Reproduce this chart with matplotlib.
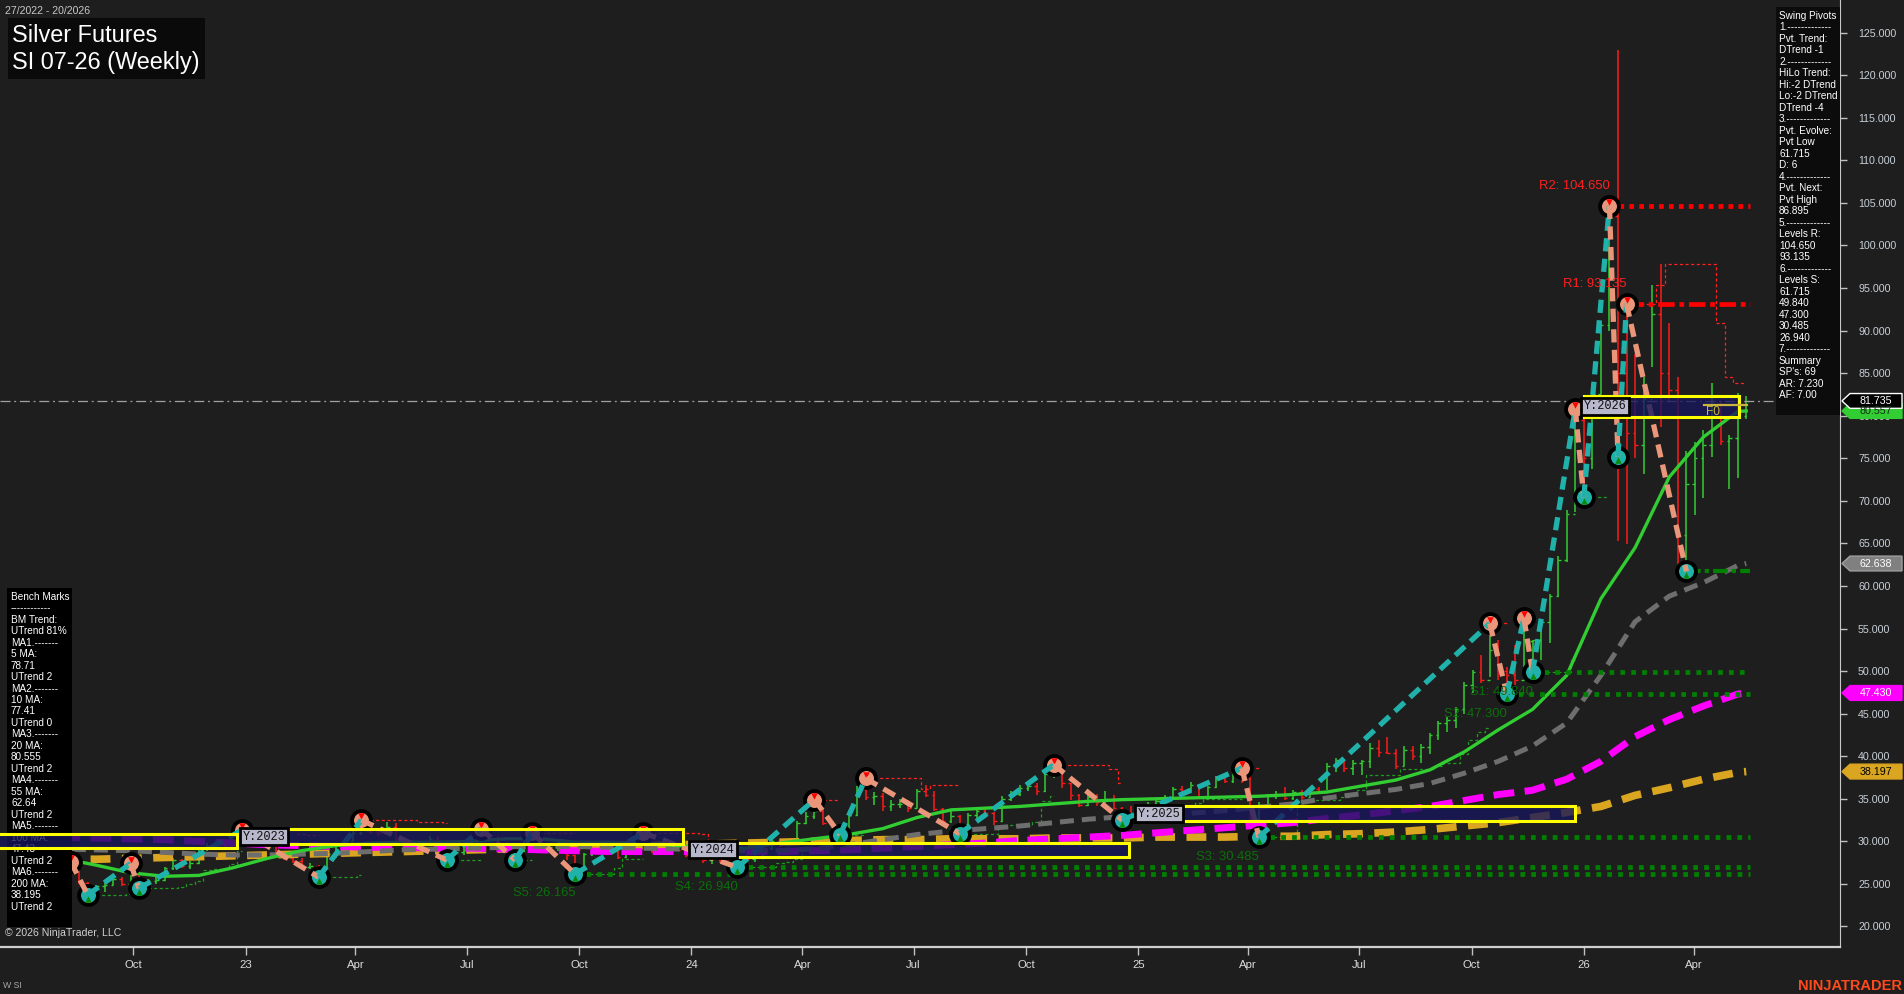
import datetime as dt
import numpy as np
import matplotlib
matplotlib.use('Agg')
import matplotlib.pyplot as plt
from matplotlib.patches import Rectangle, Polygon
from matplotlib.transforms import IdentityTransform

plt.rcParams['font.family'] = ['Liberation Sans', 'DejaVu Sans']

# weekly bars, bar 0 = week of 2022-07-04 (27/2022), last bar = 20/2026
start = dt.date(2022, 7, 4)
first_open = 25.6
highs = [26.0, 25.4, 25.1, 26.4, 26.5, 27.6, 27.2, 25.2, 24.9, 25.1,
         26.0, 25.8, 27.4, 26.8, 25.6, 25.8, 27.0, 28.0, 27.9, 27.7,
         29.3, 29.8, 30.0, 30.0, 30.3, 31.3, 30.9, 30.8, 30.4, 30.7,
         28.7, 28.4, 28.0, 27.4, 27.2, 28.6, 29.3, 30.2, 31.2, 32.5,
         31.8, 31.5, 32.3, 32.2, 30.3, 30.2, 29.9, 30.6, 30.6, 30.2,
         29.1, 29.3, 31.2, 31.5, 31.1, 30.6, 29.9, 29.1, 30.5, 31.0,
         30.3, 29.6, 30.0, 29.9, 28.4, 28.6, 29.3, 29.4, 29.3, 29.1,
         29.7, 30.3, 31.0, 30.9, 29.4, 29.8, 29.8, 29.2, 28.8, 28.3,
         28.1, 28.2, 27.9, 28.4, 28.4, 28.3, 29.4, 30.4, 30.2, 30.2,
         32.4, 33.5, 34.9, 33.8, 32.4, 31.9, 33.3, 36.5, 37.4, 35.8,
         35.7, 34.8, 35.0, 34.8, 36.1, 36.6, 35.9, 33.9, 33.6, 33.1,
         33.3, 33.9, 34.0, 33.5, 35.3, 35.9, 36.6, 37.0, 36.8, 38.1,
         39.0, 38.5, 36.9, 35.6, 35.4, 35.6, 35.9, 35.4, 34.0, 34.1,
         34.4, 34.6, 35.1, 35.5, 36.4, 36.5, 37.0, 36.7, 36.5, 37.7,
         38.0, 38.2, 38.6, 37.9, 34.6, 35.6, 35.9, 36.4, 36.0, 36.0,
         36.4, 36.4, 39.2, 39.8, 39.4, 39.6, 39.6, 41.5, 41.9, 42.3,
         40.8, 41.2, 41.2, 41.4, 42.7, 44.1, 44.6, 45.8, 48.7, 50.1,
         51.9, 55.6, 53.7, 50.5, 53.1, 56.2, 53.7, 56.0, 59.1, 63.5,
         68.9, 80.8, 80.6, 83.4, 91.1, 104.65, 123.0, 93.135, 87.3, 84.6,
         95.3, 97.8, 90.9, 84.6, 75.8, 76.9, 78.3, 83.8, 81.7, 77.7,
         82.7, 82.3]
lows = [24.9, 24.3, 24.4, 24.3, 25.6, 25.9, 25.0, 23.7, 23.8, 24.1,
        24.9, 24.7, 24.9, 24.5, 24.6, 25.0, 25.3, 26.6, 26.9, 26.8,
        27.3, 28.9, 29.0, 29.0, 29.5, 29.8, 29.8, 29.9, 29.6, 28.4,
        27.8, 27.4, 26.9, 26.7, 25.8, 26.0, 28.0, 28.9, 29.9, 30.8,
        30.9, 30.6, 30.8, 30.0, 29.6, 29.0, 29.0, 29.5, 29.7, 27.8,
        28.0, 28.4, 28.9, 30.6, 30.1, 29.7, 28.9, 27.8, 28.8, 30.0,
        29.0, 28.8, 28.9, 27.8, 26.165, 26.9, 28.3, 28.5, 28.4, 27.9,
        28.1, 29.4, 29.9, 28.6, 28.4, 29.0, 28.9, 28.2, 28.0, 27.4,
        27.3, 27.4, 27.1, 26.94, 27.5, 27.6, 27.9, 29.0, 29.3, 29.4,
        29.9, 32.0, 32.6, 31.9, 31.1, 30.8, 31.5, 33.0, 34.8, 34.3,
        33.6, 33.6, 33.9, 33.5, 33.9, 35.2, 33.6, 31.9, 32.1, 30.9,
        31.7, 32.8, 33.0, 31.9, 32.3, 34.7, 35.3, 35.9, 35.5, 35.8,
        37.4, 36.3, 34.9, 34.0, 34.1, 34.2, 34.5, 33.8, 32.5, 32.9,
        33.3, 33.8, 34.1, 34.5, 35.0, 35.4, 35.9, 35.0, 35.0, 36.3,
        36.8, 36.9, 36.8, 32.3, 30.485, 34.0, 35.0, 34.9, 34.9, 34.9,
        35.2, 35.6, 36.0, 38.2, 38.2, 37.8, 37.8, 38.6, 39.9, 40.3,
        38.5, 38.9, 39.6, 39.2, 40.3, 41.9, 42.9, 43.3, 45.0, 47.4,
        48.6, 49.3, 48.9, 47.3, 48.4, 50.5, 49.84, 51.3, 53.3, 58.7,
        62.8, 68.7, 70.4, 73.7, 82.5, 90.0, 65.3, 64.9, 75.0, 73.1,
        85.7, 78.7, 81.7, 62.4, 61.715, 68.3, 70.3, 75.2, 76.6, 71.4,
        72.7, 79.6]
closes = [25.1, 24.7, 24.7, 26.2, 25.9, 26.8, 25.1, 24.0, 24.8, 24.9,
          25.6, 25.0, 26.6, 24.6, 25.4, 25.5, 26.9, 27.8, 27.1, 27.5,
          29.2, 29.5, 29.3, 29.8, 30.1, 30.4, 30.6, 30.1, 29.8, 28.5,
          28.1, 27.7, 27.0, 27.1, 26.3, 28.5, 29.1, 30.0, 31.0, 31.3,
          31.1, 31.0, 31.7, 30.1, 29.9, 29.3, 29.7, 30.3, 30.1, 28.6,
          28.7, 29.0, 31.0, 30.9, 30.4, 29.8, 29.0, 28.9, 30.4, 30.2,
          29.2, 29.3, 29.9, 28.4, 27.0, 28.5, 29.0, 29.1, 28.9, 28.2,
          29.6, 30.1, 30.9, 28.8, 29.2, 29.5, 29.0, 28.4, 28.3, 27.8,
          27.9, 27.7, 27.4, 28.3, 27.9, 28.1, 29.2, 30.1, 29.6, 30.0,
          32.2, 33.0, 33.6, 32.1, 31.4, 31.7, 33.1, 36.2, 35.2, 35.3,
          34.1, 34.4, 34.4, 33.9, 35.9, 35.5, 33.8, 32.4, 33.0, 32.0,
          33.1, 33.6, 33.3, 32.4, 35.0, 35.6, 36.3, 36.5, 35.9, 37.9,
          38.0, 36.9, 35.4, 34.3, 35.2, 34.6, 35.0, 33.9, 33.5, 33.2,
          34.2, 34.4, 34.7, 35.2, 36.1, 35.9, 36.6, 35.2, 36.4, 37.4,
          37.1, 38.0, 37.5, 32.6, 34.3, 35.3, 35.4, 35.1, 35.8, 35.2,
          36.2, 35.8, 38.9, 39.5, 38.6, 39.2, 39.4, 41.0, 40.5, 40.4,
          38.9, 40.7, 40.0, 41.1, 42.5, 43.9, 44.3, 45.6, 48.4, 49.9,
          49.0, 52.5, 50.0, 49.5, 49.0, 53.5, 53.6, 55.8, 58.8, 63.0,
          68.5, 79.5, 75.0, 82.5, 90.6, 103.5, 85.0, 78.0, 76.5, 82.0,
          92.0, 85.0, 83.0, 66.0, 72.0, 75.0, 76.5, 80.0, 77.0, 77.4,
          80.0, 81.735]

# moving averages every 4 weeks (+ last bar)
ma_weeks = list(range(0, 201, 4)) + [201]
ma20 = [28.3, 28.0, 27.2, 26.3, 25.9, 26.0, 26.9, 28.0, 28.9, 29.5, 29.8, 29.9, 29.9,
        30.0, 30.3, 30.3, 29.9, 29.9, 29.8, 29.5, 29.2, 29.2, 29.8, 30.3, 30.8, 31.5,
        32.8, 33.7, 33.9, 34.1, 34.4, 34.7, 34.9, 35.0, 35.1, 35.2, 35.3, 35.5, 35.8,
        36.5, 37.2, 38.4, 40.5, 43.1, 45.5, 49.5, 58.5, 64.5, 72.8, 77.5, 80.5, 80.557]
ma55 = [29.3, 29.1, 29.0, 28.9, 28.7, 28.5, 28.4, 28.4, 28.5, 28.6, 28.8, 29.0, 29.1,
        29.2, 29.3, 29.4, 29.4, 29.3, 29.2, 29.1, 29.0, 28.9, 28.9, 29.1, 29.6, 30.2,
        30.8, 31.2, 31.5, 31.8, 32.2, 32.6, 32.9, 33.1, 33.3, 33.6, 34.0, 34.4, 35.1,
        35.6, 36.1, 36.8, 38.0, 39.4, 41.2, 43.9, 49.5, 55.8, 58.8, 60.4, 62.4, 62.638]
ma100 = [30.6, 30.5, 30.4, 30.3, 30.2, 30.0, 29.8, 29.6, 29.5, 29.4, 29.3, 29.3, 29.2,
         29.2, 29.1, 29.0, 28.9, 28.8, 28.8, 28.8, 28.8, 28.8, 28.8, 28.9, 29.0, 29.2,
         29.4, 29.6, 29.8, 30.1, 30.3, 30.5, 30.7, 31.0, 31.3, 31.6, 31.9, 32.2, 32.7,
         33.1, 33.6, 34.1, 34.8, 35.5, 36.0, 37.3, 39.4, 42.3, 44.3, 45.9, 47.3, 47.43]
ma200 = [27.8, 27.9, 27.9, 28.0, 28.1, 28.2, 28.3, 28.4, 28.5, 28.6, 28.7, 28.8, 28.9,
         29.0, 29.1, 29.2, 29.3, 29.4, 29.5, 29.6, 29.7, 29.8, 29.9, 30.0, 30.1, 30.2,
         30.2, 30.3, 30.3, 30.3, 30.4, 30.4, 30.4, 30.5, 30.5, 30.5, 30.6, 30.6, 30.8,
         30.9, 31.1, 31.4, 31.8, 32.2, 32.8, 33.4, 34.1, 35.4, 36.3, 37.3, 38.1, 38.197]

# swing pivots (alternating high / low)
pivot_weeks = [5, 7, 12, 13, 25, 34, 39, 49, 53, 57, 59, 64, 72, 83, 92, 95,
               98, 109, 120, 128, 142, 144, 171, 173, 175, 176, 181, 182, 185, 186, 187, 194]
pivot_prices = [27.6, 23.7, 27.4, 24.5, 31.3, 25.8, 32.5, 27.8, 31.5, 27.8, 31.0, 26.165,
                31.0, 26.94, 34.9, 30.8, 37.4, 30.9, 39.0, 32.5, 38.6, 30.485, 55.6, 47.3,
                56.2, 49.84, 80.8, 70.4, 104.65, 75.2, 93.135, 61.715]
pivot_kinds = ['H', 'L'] * 16

level_names = ['R2', 'R1', 'S1', 'S2', 'S3', 'S4', 'S5']
level_values = [104.650, 93.135, 49.840, 47.300, 30.485, 26.940, 26.165]
level_weeks = [185, 187, 176, 173, 144, 83, 64]
evolve_value, evolve_week = 61.715, 194

year_labels = ['', 'Y:2023', 'Y:2024', 'Y:2025', 'Y:2026']
year_start = [-4.0, 25.1, 77.6, 129.8, 182.0]
year_end = [24.4, 76.6, 128.8, 181.0, 200.1]
year_low = [29.2, 29.7, 28.2, 32.4, 79.9]
year_high = [30.9, 31.4, 29.8, 34.1, 82.3]

last_price = 81.735
tag_values = [80.557, 81.735, 62.638, 47.430, 38.197]
tag_fill = ['#32cd32', '#000000', '#808080', '#ff00ff', '#daa520']
tag_text = ['#103010', '#ffffff', '#ffffff', '#ffffff', '#000000']
tag_edge = ['#32cd32', '#ffffff', '#a0a0a0', '#ff00ff', '#daa520']

tick_dates = [dt.date(2022, 10, 1), dt.date(2023, 1, 1), dt.date(2023, 4, 1), dt.date(2023, 7, 1),
              dt.date(2023, 10, 1), dt.date(2024, 1, 1), dt.date(2024, 4, 1), dt.date(2024, 7, 1),
              dt.date(2024, 10, 1), dt.date(2025, 1, 1), dt.date(2025, 4, 1), dt.date(2025, 7, 1),
              dt.date(2025, 10, 1), dt.date(2026, 1, 1), dt.date(2026, 4, 1)]
tick_labels = ['Oct', '23', 'Apr', 'Jul', 'Oct', '24', 'Apr', 'Jul', 'Oct', '25', 'Apr', 'Jul',
               'Oct', '26', 'Apr']

swing_text = ['Swing Pivots', '1.-------------', 'Pvt. Trend:', 'DTrend -1', '2.-------------',
              'HiLo Trend:', 'Hi:-2 DTrend', 'Lo:-2 DTrend', 'DTrend -4', '3.-------------',
              'Pvt. Evolve:', 'Pvt Low', '61.715', 'D: 6', '4.-------------', 'Pvt. Next:',
              'Pvt High', '86.895', '5.-------------', 'Levels R:', '104.650', '93.135',
              '6.-------------', 'Levels S:', '61.715', '49.840', '47.300', '30.485', '26.940',
              '7.-------------', 'Summary', "SP's: 69", 'AR: 7.230', 'AF: 7.00']
bench_text = ['Bench Marks', '------------', 'BM Trend:', 'UTrend 81%', 'MA1.-------', '5 MA:',
              '78.71', 'UTrend 2', 'MA2.-------', '10 MA:', '77.41', 'UTrend 0', 'MA3.-------',
              '20 MA:', '80.555', 'UTrend 2', 'MA4.-------', '55 MA:', '62.64', 'UTrend 2',
              'MA5.-------', '100 MA:', '47.43', 'UTrend 2', 'MA6.-------', '200 MA:', '38.195',
              'UTrend 2']

BG = '#1e1e1e'
W, H = 1904, 994
AX_W, AX_H = 1840, 947

fig = plt.figure(figsize=(W / 100, H / 100), dpi=100, facecolor=BG)
ax = fig.add_axes([0, 1 - AX_H / H, AX_W / W, AX_H / H])
ax.set_facecolor(BG)
ax.set_xlim(-3.27, 211.97)
ax.set_ylim(17.59, 128.83)


def axp(px, py):
    # pixel (top-left origin) -> axes fraction
    return px / AX_W, (AX_H - py) / AX_H


# ---- bars
x = np.arange(len(closes))
opens = np.array([first_open] + closes[:-1])
cl = np.array(closes)
bar_col = np.where(cl >= opens, '#32cd32', '#ff1a1a')
ax.vlines(x, lows, highs, colors=bar_col, lw=1.1, zorder=3)
ax.hlines(opens, x - 0.3, x, colors=bar_col, lw=1.0, zorder=3)
ax.hlines(cl, x, x + 0.3, colors=bar_col, lw=1.0, zorder=3)

# ---- trailing step lines from bar data
last_h = max(i for i, k in enumerate(pivot_kinds) if k == 'H')
for i, (pw, kind) in enumerate(zip(pivot_weeks, pivot_kinds)):
    if i == last_h:
        end = len(closes) - 1
    elif i + 1 < len(pivot_weeks):
        end = pivot_weeks[i + 1]
    else:
        continue
    ws = list(range(pw + 1, end + 1))
    if not ws:
        continue
    if kind == 'H':
        vals = [max(highs[max(w - 6, pw):w]) for w in ws]
        col = '#ff2020'
    else:
        vals = [min(lows[max(w - 4, pw):w]) for w in ws]
        col = '#1f9a1f'
    ax.step(ws, vals, where='mid', color=col, lw=0.9, ls=(0, (2.5, 2)), zorder=3.5)

# ---- moving averages
ax.plot(ma_weeks, ma200, color='#daa520', lw=5.5, dashes=(2.6, 1.5), zorder=4)
ax.plot(ma_weeks, ma100, color='#ff00ff', lw=5.0, dashes=(3.0, 1.5), zorder=4)
ax.plot(ma_weeks, ma55, color='#6e6e6e', lw=3.6, dashes=(2.8, 1.6), zorder=4)
ax.plot(ma_weeks, ma20, color='#32cd32', lw=2.4, zorder=4)

# ---- current price line
ax.axhline(last_price, color='#a0a0a0', lw=0.9, ls=(0, (8, 3, 1.5, 3)), zorder=4.5)

# ---- levels
level_end = 201.4
for name, val, wk in zip(level_names, level_values, level_weeks):
    if name.startswith('R'):
        col = '#ff0000'
        ls = (0, (1, 1.1)) if name == 'R2' else (0, (3.5, 1.0, 1.0, 1.0))
        dy = 14
        tcol = '#ff2020'
    else:
        col = '#008000'
        ls = (0, (1, 1.3))
        dy = -14
        tcol = '#0b6e0b'
    ax.plot([wk, level_end], [val, val], color=col, lw=3.4, ls=ls, zorder=5)
    ax.annotate(f'{name}: {val:.3f}', xy=(wk, val), xytext=(0, dy), textcoords='offset points',
                ha='right', va='center', color=tcol, fontsize=9.4, zorder=10)
ax.plot([evolve_week, level_end], [evolve_value, evolve_value], color='#008000', lw=3.0,
        ls=(0, (3.5, 1.0, 1.0, 1.0)), zorder=5)

# ---- pivots: circles, then zigzag legs on top
pw = np.array(pivot_weeks)
pp = np.array(pivot_prices)
is_h = np.array([k == 'H' for k in pivot_kinds])
ax.scatter(pw[is_h], pp[is_h], s=185, c='#e9967a', edgecolors='black', linewidths=2.8, zorder=6)
ax.scatter(pw[~is_h], pp[~is_h], s=185, c='#20b2aa', edgecolors='black', linewidths=2.8, zorder=6)
ax.scatter(pw[is_h], pp[is_h] + 0.45, s=22, marker='v', c='#ff0000', lw=0, zorder=6.5)
ax.scatter(pw[~is_h], pp[~is_h] - 0.45, s=22, marker='^', c='#0a8a0a', lw=0, zorder=6.5)
for i in range(len(pivot_weeks) - 1):
    col = '#20b2aa' if pivot_kinds[i] == 'L' else '#e9967a'
    ax.plot(pivot_weeks[i:i + 2], pivot_prices[i:i + 2], color=col, lw=3.8,
            dashes=(2.5, 1.4), zorder=7)

# ---- panels (below the yearly boxes)
bx0, by0 = axp(7, 927)
ax.add_patch(Rectangle((bx0, by0), 65 / AX_W, (927 - 588) / AX_H, transform=ax.transAxes,
                       fc='#000000', ec='none', zorder=8))
for i, line in enumerate(bench_text):
    tx, ty = axp(11, 596.7 + i * 11.48)
    ax.text(tx, ty, line, transform=ax.transAxes, color='white', fontsize=7.2,
            va='center', ha='left', zorder=8.5)
sx0, sy0 = axp(1776, 415)
ax.add_patch(Rectangle((sx0, sy0), 64 / AX_W, (415 - 7) / AX_H, transform=ax.transAxes,
                       fc='#0c0c0c', ec='none', zorder=8))
for i, line in enumerate(swing_text):
    tx, ty = axp(1779, 15.7 + i * 11.5)
    ax.text(tx, ty, line, transform=ax.transAxes, color='white', fontsize=7.2,
            va='center', ha='left', zorder=8.5)

# ---- yearly boxes
for lab, x0, x1, lo, hi in zip(year_labels, year_start, year_end, year_low, year_high):
    ax.add_patch(Rectangle((x0, lo), x1 - x0, hi - lo, fc=(0.09, 0.09, 0.36, 0.8),
                           ec='#ffff00', lw=2.2, zorder=9))
    if lab:
        ax.text(x0, (lo + hi) / 2, lab, family=['Liberation Mono', 'DejaVu Sans Mono'],
                fontsize=8.6, color='#111111', ha='left', va='center', zorder=10,
                bbox=dict(boxstyle='square,pad=0.22', fc='#b8b8cc', ec='black', lw=2))
ax.plot([196.1, 201.1], [81.2, 81.2], color='#c8b43c', lw=1.6, zorder=10)
ax.text(196.3, 80.45, 'F0', color='#c8b43c', fontsize=8.6, ha='left', va='center', zorder=10)

# ---- title block
tx0, ty0 = axp(8, 79)
ax.add_patch(Rectangle((tx0, ty0), 197 / AX_W, 61 / AX_H, transform=ax.transAxes,
                       fc='#0a0a0a', ec='none', zorder=11))
for line, py in zip(['Silver Futures', 'SI 07-26 (Weekly)'], [35, 63]):
    tx, ty = axp(11.5, py)
    ax.text(tx, ty, line, transform=ax.transAxes, color='white', fontsize=16.9,
            va='center', ha='left', zorder=12)
tx, ty = axp(5, 11)
ax.text(tx, ty, '27/2022 - 20/2026', transform=ax.transAxes, color='#c8c8c8',
        fontsize=7.6, va='center', ha='left', zorder=12)
tx, ty = axp(5, 933)
ax.text(tx, ty, '\u00a9 2026 NinjaTrader, LLC', transform=ax.transAxes, color='#d0d0d0',
        fontsize=7.6, va='center', ha='left', zorder=12)

# ---- axes styling
for s in ['left', 'top']:
    ax.spines[s].set_visible(False)
ax.spines['right'].set_color('#c8c8c8')
ax.spines['bottom'].set_color('#d0d0d0')
ax.spines['bottom'].set_linewidth(1.6)
ax.yaxis.tick_right()
ax.set_yticks(np.arange(20, 126, 5))
ax.set_yticklabels([f'{v:.3f}' for v in np.arange(20, 126, 5)])
ax.tick_params(axis='y', colors='#c0c0c0', labelcolor='#c8d0d8', length=5, width=1,
               labelsize=7.7, pad=8)
tick_pos = [(d - start).days / 7 - 0.4 for d in tick_dates]
ax.set_xticks(tick_pos)
ax.set_xticklabels(tick_labels, family=['Liberation Sans Narrow', 'Liberation Sans'])
ax.tick_params(axis='x', colors='#c0c0c0', labelcolor='#dcdcdc', length=5.5, width=1,
               labelsize=8.2, pad=4)

# ---- price tags on the right axis
fig.canvas.draw()
for val, fc, tc, ec in zip(tag_values, tag_fill, tag_text, tag_edge):
    yc = ax.transData.transform((0, val))[1]
    h = 7.4
    poly = Polygon([[1842, yc], [1850, yc + h], [1902, yc + h], [1902, yc - h], [1850, yc - h]],
                   closed=True, fc=fc, ec=ec, lw=1.0, transform=IdentityTransform(), zorder=20)
    fig.add_artist(poly)
    fig.text(1876 / W, yc / H, f'{val:.3f}', color=tc, fontsize=7.7, ha='center',
             va='center', zorder=21)

fig.text(3 / W, 1 - 986 / H, 'W SI', color='#a8a8a8', fontsize=6.3, ha='left', va='center',
         family=['Liberation Sans Narrow', 'Liberation Sans'])
fig.text(1902 / W, 1 - 986 / H, 'NINJATRADER', color='#ff4a1c', fontsize=10.5, ha='right',
         va='center', weight='bold', family=['Liberation Sans Narrow', 'Liberation Sans'])

fig.savefig('out.png', dpi=100, facecolor=BG)
